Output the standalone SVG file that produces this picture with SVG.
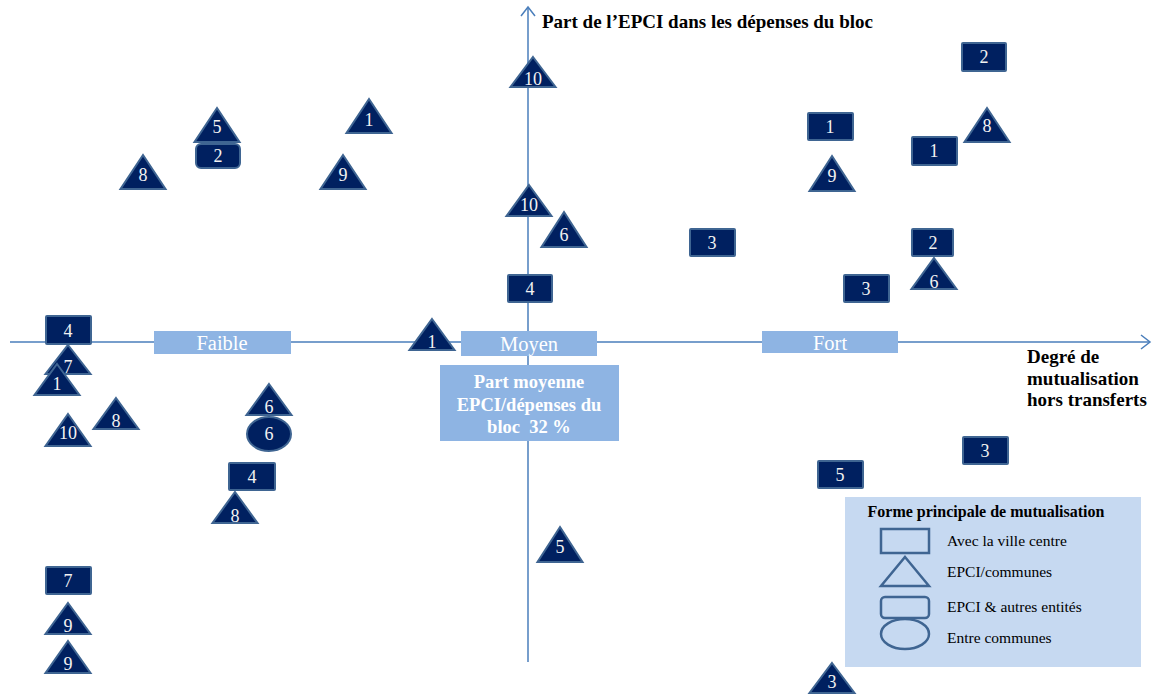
<svg xmlns="http://www.w3.org/2000/svg" width="1156" height="695" viewBox="0 0 1156 695">
<defs>
<style>
.ax{stroke:#4A7EBB;stroke-width:1.5;fill:none}
.n{fill:#002060;stroke:#3F6592;stroke-width:2}
.t{fill:#F2F2F2;font-family:"Liberation Serif",serif;font-size:18px;text-anchor:middle;dominant-baseline:central}
.lb{fill:#8EB4E3}
.lt{fill:#FFFFFF;font-family:"Liberation Serif",serif;font-size:20.5px;text-anchor:middle;dominant-baseline:central}
.bt{fill:#000000;font-family:"Liberation Serif",serif;font-size:19px;font-weight:bold}
.pm{fill:#FFFFFF;font-family:"Liberation Serif",serif;font-size:18.5px;font-weight:bold;text-anchor:middle}
.lg{fill:none;stroke:#3F6592;stroke-width:2.5}
.lgt{fill:#000000;font-family:"Liberation Serif",serif;font-size:15.5px}
</style>
</defs>
<rect width="1156" height="695" fill="#FFFFFF"/>
<g id="axes">
<line class="ax" x1="10" y1="342" x2="1150" y2="342"/>
<polyline class="ax" points="1141,335 1150,342 1141,349"/>
<line class="ax" x1="528" y1="7" x2="528" y2="662"/>
<polyline class="ax" points="521,16 528,7 535,16"/>
</g>
<g id="axis-labels">
<text class="bt" x="542" y="28" font-size="18.8">Part de l’EPCI dans les dépenses du bloc</text>
<text class="bt" x="1027" y="363">Degré de</text>
<text class="bt" x="1027" y="385">mutualisation</text>
<text class="bt" x="1027" y="406">hors transferts</text>
</g>
<g id="label-faible"><rect class="lb" x="154" y="331" width="137" height="23"/><text class="lt" x="222" y="343">Faible</text></g>
<g id="label-moyen"><rect class="lb" x="461" y="331" width="136" height="25"/><text class="lt" x="529" y="344">Moyen</text></g>
<g id="label-fort"><rect class="lb" x="762" y="331" width="136" height="22"/><text class="lt" x="830" y="343">Fort</text></g>
<g id="part-moyenne"><rect class="lb" x="440" y="365" width="179" height="76"/>
<text class="pm" x="529" y="388">Part moyenne</text>
<text class="pm" x="529" y="411">EPCI/dépenses du</text>
<text class="pm" x="529" y="433">bloc &#160;32 %</text></g>

<g id="r-2a"><rect class="n" x="962" y="43" width="44" height="28" rx="1"/><text class="t" x="984" y="57">2</text></g>
<g id="r-1a"><rect class="n" x="808" y="113" width="45" height="27" rx="1"/><text class="t" x="830" y="127">1</text></g>
<g id="r-1b"><rect class="n" x="912" y="137" width="45" height="28" rx="1"/><text class="t" x="934" y="151">1</text></g>
<g id="r-3a"><rect class="n" x="690" y="229" width="45" height="27" rx="1"/><text class="t" x="712" y="243">3</text></g>
<g id="r-2b"><rect class="n" x="912" y="229" width="41" height="27" rx="1"/><text class="t" x="933" y="243">2</text></g>
<g id="r-3b"><rect class="n" x="844" y="275" width="45" height="27" rx="1"/><text class="t" x="866" y="289">3</text></g>
<g id="r-4a"><rect class="n" x="508" y="275" width="44" height="27" rx="1"/><text class="t" x="530" y="289">4</text></g>
<g id="r-4b"><rect class="n" x="46" y="316" width="45" height="28" rx="1"/><text class="t" x="68" y="331">4</text></g>
<g id="r-4c"><rect class="n" x="229" y="463" width="46" height="27" rx="1"/><text class="t" x="252" y="477">4</text></g>
<g id="r-7"><rect class="n" x="46" y="567" width="45" height="27" rx="1"/><text class="t" x="68" y="581">7</text></g>
<g id="r-3c"><rect class="n" x="963" y="437" width="45" height="27" rx="1"/><text class="t" x="985" y="451">3</text></g>
<g id="r-5"><rect class="n" x="818" y="461" width="45" height="27" rx="1"/><text class="t" x="840" y="475">5</text></g>
<g id="rr-2"><rect class="n" x="196" y="144" width="44" height="24" rx="5"/><text class="t" x="218" y="156">2</text></g>
<g id="e-6"><ellipse class="n" cx="269" cy="434" rx="22" ry="17"/><text class="t" x="269" y="434">6</text></g>

<g id="t-5a"><polygon class="n" points="217,108 239.5,142 194.5,142"/><text class="t" x="217" y="127">5</text></g>
<g id="t-8a"><polygon class="n" points="143,155 165.5,189 120.5,189"/><text class="t" x="143" y="175">8</text></g>
<g id="t-1a"><polygon class="n" points="369,99 391.5,133 346.5,133"/><text class="t" x="369" y="120">1</text></g>
<g id="t-9a"><polygon class="n" points="343,155 365.5,189 320.5,189"/><text class="t" x="343" y="175">9</text></g>
<g id="t-10a"><polygon class="n" points="533,57 555.5,87 510.5,87"/><text class="t" x="533" y="79">10</text></g>
<g id="t-10b"><polygon class="n" points="529,185 551.5,216 506.5,216"/><text class="t" x="529" y="205">10</text></g>
<g id="t-6a"><polygon class="n" points="564,212 586.5,247 541.5,247"/><text class="t" x="564" y="235">6</text></g>
<g id="t-1b"><polygon class="n" points="432,319 454.5,350 409.5,350"/><text class="t" x="432" y="342">1</text></g>
<g id="t-8b"><polygon class="n" points="987,108 1009.5,142 964.5,142"/><text class="t" x="987" y="126">8</text></g>
<g id="t-9b"><polygon class="n" points="832,156 854.5,191 809.5,191"/><text class="t" x="832" y="176">9</text></g>
<g id="t-6b"><polygon class="n" points="934,258 956.5,289 911.5,289"/><text class="t" x="934" y="282">6</text></g>
<g id="t-7"><polygon class="n" points="68,345 90.5,374 45.5,374"/><text class="t" x="68" y="367">7</text></g>
<g id="t-1c"><polygon class="n" points="57,364 79.5,395 34.5,395"/><text class="t" x="57" y="384">1</text></g>
<g id="t-10c"><polygon class="n" points="68,414 90.5,446 45.5,446"/><text class="t" x="68" y="433">10</text></g>
<g id="t-8c"><polygon class="n" points="116,398 138.5,429 93.5,429"/><text class="t" x="116" y="421">8</text></g>
<g id="t-6c"><polygon class="n" points="269,384 291.5,415 246.5,415"/><text class="t" x="269" y="407">6</text></g>
<g id="t-8d"><polygon class="n" points="235,492 257.5,523 212.5,523"/><text class="t" x="235" y="516">8</text></g>
<g id="t-9c"><polygon class="n" points="68,603 90.5,634 45.5,634"/><text class="t" x="68" y="626">9</text></g>
<g id="t-9d"><polygon class="n" points="68,641 90.5,673 45.5,673"/><text class="t" x="68" y="664">9</text></g>
<g id="t-5b"><polygon class="n" points="560,527 582.5,562 537.5,562"/><text class="t" x="560" y="547">5</text></g>
<g id="t-3"><polygon class="n" points="832,663 854.5,693 809.5,693"/><text class="t" x="832" y="682">3</text></g>

<g id="legend">
<rect x="845" y="497" width="296" height="170" fill="#C6D9F1"/>
<text x="986" y="517" font-family="Liberation Serif, serif" font-size="16" font-weight="bold" text-anchor="middle" fill="#000">Forme principale de mutualisation</text>
<rect class="lg" x="881" y="529" width="48" height="24"/>
<polygon class="lg" points="905,557 929,586 881,586"/>
<rect class="lg" x="881" y="597" width="48" height="21" rx="4"/>
<ellipse class="lg" cx="905" cy="634" rx="24" ry="15"/>
<text class="lgt" x="947" y="546">Avec la ville centre</text>
<text class="lgt" x="947" y="577">EPCI/communes</text>
<text class="lgt" x="947" y="612">EPCI &amp; autres entités</text>
<text class="lgt" x="947" y="643">Entre communes</text>
</g>
</svg>
